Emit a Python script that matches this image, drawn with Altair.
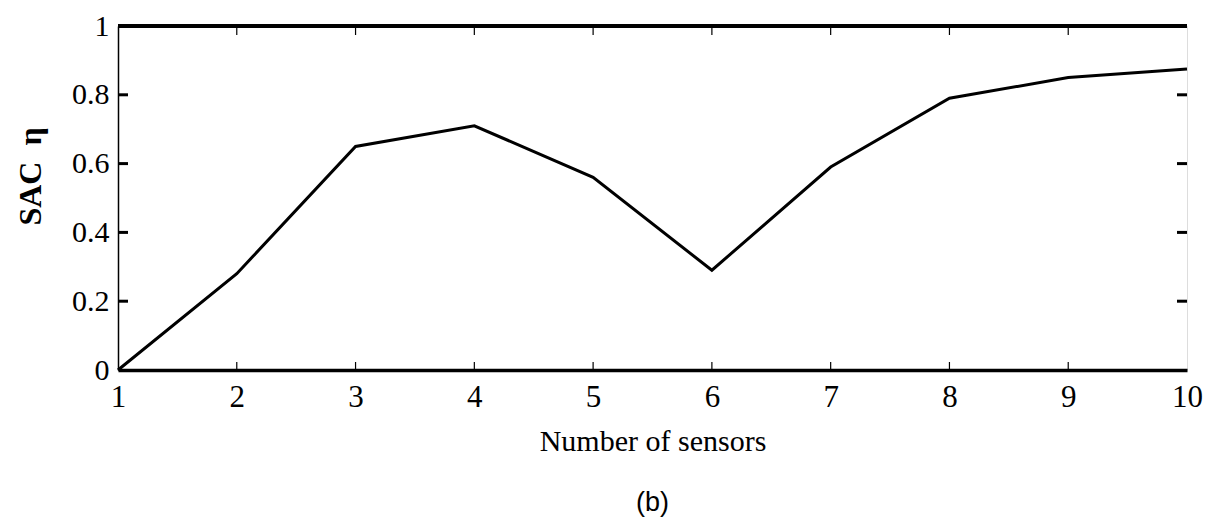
import altair as alt
import pandas as pd

# ---- data ----
sensors = [1, 2, 3, 4, 5, 6, 7, 8, 9, 10]
sac = [0.0, 0.28, 0.65, 0.71, 0.56, 0.29, 0.59, 0.79, 0.85, 0.875]
upper = [1.0, 1.0, 1.0, 1.0, 1.0, 1.0, 1.0, 1.0, 1.0, 1.0]

x_ticks = [2, 3, 4, 5, 6, 7, 8, 9]
y_ticks = [0.2, 0.4, 0.6, 0.8]
x_labels = [1, 2, 3, 4, 5, 6, 7, 8, 9, 10]
y_labels = [0, 0.2, 0.4, 0.6, 0.8, 1]

W, H = 1069, 344

df = pd.DataFrame({"n": sensors, "sac": sac, "upper": upper})
dfx = pd.DataFrame({"t": x_ticks})
dfy = pd.DataFrame({"t": y_ticks})

xscale = alt.Scale(domain=[1, 10], nice=False, zero=False)
yscale = alt.Scale(domain=[0, 1], nice=False)

xaxis = alt.Axis(
    values=x_labels, format="d", tickSize=0, grid=False, domain=True,
    domainWidth=3.5, domainColor="black", labelFont="Liberation Serif",
    labelFontSize=31, labelColor="black", labelPadding=12,
    title="Number of sensors", titleFont="Liberation Serif", titleFontSize=30,
    titleFontWeight="normal", titleColor="black", titlePadding=14,
    labelFlush=False,
)
yaxis = alt.Axis(
    values=y_labels, format=".1~f", tickSize=0, grid=False, domain=True,
    domainWidth=1.5, domainColor="black", labelFont="Liberation Serif",
    labelFontSize=30, labelColor="black", labelPadding=9,
    title="SAC\u2002η", titleFont="Liberation Serif", titleFontSize=32,
    titleFontWeight="bold", titleColor="black", titleAngle=-90,
    titleAlign="center", titleBaseline="middle", titleX=-88, titleY=150,
    labelFlush=False,
)

line = alt.Chart(df).mark_line(color="black", strokeWidth=3).encode(
    x=alt.X("n:Q", scale=xscale, axis=xaxis),
    y=alt.Y("sac:Q", scale=yscale, axis=yaxis),
)
top = alt.Chart(df).mark_line(color="black", strokeWidth=4).encode(
    x=alt.X("n:Q", scale=xscale),
    y=alt.Y("upper:Q", scale=yscale),
)

tick_bottom = alt.Chart(dfx).mark_rule(color="black", strokeWidth=1.2).encode(
    x=alt.X("t:Q", scale=xscale), y=alt.value(H), y2=alt.value(H - 8)
)
tick_top = alt.Chart(dfx).mark_rule(color="black", strokeWidth=1.2).encode(
    x=alt.X("t:Q", scale=xscale), y=alt.value(0), y2=alt.value(9)
)
tick_left = alt.Chart(dfy).mark_rule(color="black", strokeWidth=3).encode(
    y=alt.Y("t:Q", scale=yscale), x=alt.value(0), x2=alt.value(10)
)
tick_right = alt.Chart(dfy).mark_rule(color="black", strokeWidth=3).encode(
    y=alt.Y("t:Q", scale=yscale), x=alt.value(W - 10), x2=alt.value(W)
)

chart = alt.layer(line, top, tick_bottom, tick_top, tick_left, tick_right).properties(
    width=W, height=H,
    autosize=alt.AutoSizeParams(type="none"),
    padding={"left": 110, "top": 18, "right": 16, "bottom": 152},
    title=alt.TitleParams(
        "(b)", orient="bottom", anchor="middle", font="Liberation Sans",
        fontSize=27, fontWeight="normal", color="black", offset=34,
    ),
).configure_view(stroke="black", strokeWidth=1.5).configure(background="white")

chart.save("out.html", embed_options={"renderer": "svg", "actions": False})
